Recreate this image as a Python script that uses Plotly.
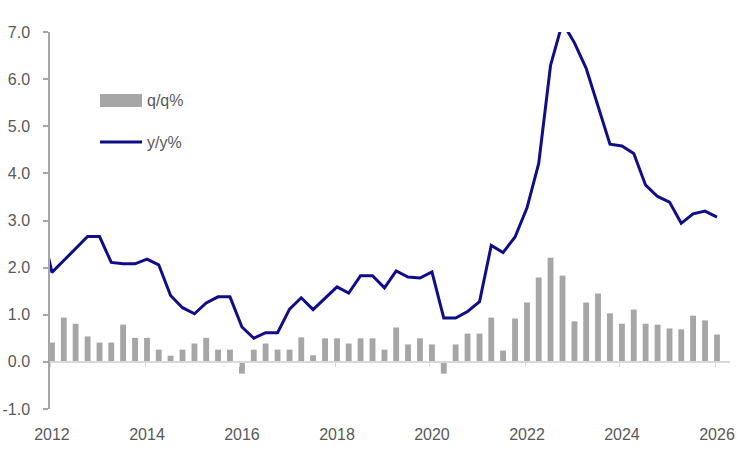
import pandas as pd
import plotly.graph_objects as go

# ---- data -------------------------------------------------------------
quarters = [str(p) for p in pd.period_range("2011Q4", "2026Q1", freq="Q")]

yy_pct = [3.0,
          1.90, 2.15, 2.41, 2.66,
          2.66, 2.11, 2.08, 2.08,
          2.18, 2.06, 1.41, 1.15,
          1.02, 1.25, 1.38, 1.38,
          0.74, 0.50, 0.62, 0.62,
          1.12, 1.36, 1.11, 1.35,
          1.59, 1.46, 1.83, 1.83,
          1.57, 1.93, 1.80, 1.78,
          1.91, 0.93, 0.93, 1.07,
          1.28, 2.47, 2.32, 2.65,
          3.27, 4.21, 6.29, 7.20,
          6.77, 6.23, 5.43, 4.62,
          4.58, 4.42, 3.75, 3.51,
          3.39, 2.94, 3.14, 3.20,
          3.07]

qq_pct = [None,
          0.41, 0.94, 0.81, 0.54,
          0.41, 0.41, 0.79, 0.51,
          0.51, 0.26, 0.13, 0.26,
          0.39, 0.51, 0.26, 0.26,
          -0.25, 0.26, 0.39, 0.26,
          0.26, 0.52, 0.14, 0.50,
          0.50, 0.39, 0.50, 0.50,
          0.26, 0.73, 0.37, 0.50,
          0.37, -0.25, 0.37, 0.60,
          0.60, 0.94, 0.24, 0.92,
          1.26, 1.79, 2.21, 1.83,
          0.86, 1.26, 1.45, 1.03,
          0.81, 1.11, 0.81, 0.79,
          0.71, 0.69, 0.98, 0.88,
          0.58]

series_names = ["q/q%", "y/y%"]
y_ticks = [-1, 0, 1, 2, 3, 4, 5, 6, 7]
y_tick_labels = ["-1.0", "0.0", "1.0", "2.0", "3.0", "4.0", "5.0", "6.0", "7.0"]

# ---- styling ----------------------------------------------------------
BAR_COLOR = "#a6a6a6"
LINE_COLOR = "#0e0e8a"
TEXT_COLOR = "#595959"
FONT = "Liberation Sans, Arial, sans-serif"

x_dates = [pd.Period(q, freq="Q").start_time + pd.Timedelta(days=15) for q in quarters]
x_range = ["2012-01-01", "2026-04-26"]

fig = go.Figure()
fig.add_trace(go.Bar(x=x_dates, y=qq_pct, name=series_names[0],
                     marker=dict(color=BAR_COLOR, line=dict(width=0)),
                     showlegend=False))
fig.add_trace(go.Scatter(x=x_dates, y=yy_pct, name=series_names[1], mode="lines",
                         line=dict(color=LINE_COLOR, width=3),
                         xaxis="x2", showlegend=False))

fig.update_layout(
    width=750, height=456,
    margin=dict(l=50, r=20, t=32, b=47),
    paper_bgcolor="white", plot_bgcolor="white",
    font=dict(family=FONT, size=16, color=TEXT_COLOR),
    bargap=0.5,
    xaxis=dict(type="date", range=x_range, showgrid=False, zeroline=False,
               showline=False, ticks="", tick0="2012-01-16", dtick="M24",
               tickformat="%Y", tickfont=dict(size=16, color=TEXT_COLOR),
               ticklabelstandoff=14, automargin=False),
    xaxis2=dict(type="date", range=x_range, overlaying="x", anchor="free",
                position=0.125, showgrid=False, zeroline=False,
                showline=True, linecolor="#d9d9d9", linewidth=2,
                ticks="outside", ticklen=4, tickcolor="#d9d9d9", tickwidth=1,
                tick0="2012-01-01", dtick="M24", showticklabels=False,
                automargin=False),
    yaxis=dict(range=[-1, 7], tickvals=y_ticks, ticktext=y_tick_labels,
               showgrid=False, zeroline=False, showline=True,
               linecolor=BAR_COLOR, linewidth=1.5, ticks="outside", ticklen=5,
               tickcolor=BAR_COLOR, tickwidth=1.5,
               tickfont=dict(size=16, color=TEXT_COLOR), ticklabelstandoff=10,
               automargin=False),
)

# ---- legend (drawn to match the wide swatches of the original) ----------
fig.add_shape(type="rect", xref="paper", yref="paper",
              x0=0.0735, x1=0.1353, y0=0.801, y1=0.8355,
              fillcolor=BAR_COLOR, line=dict(width=0))
fig.add_shape(type="line", xref="paper", yref="paper",
              x0=0.0735, x1=0.1353, y0=0.708, y1=0.708,
              line=dict(color=LINE_COLOR, width=3))
fig.add_annotation(xref="paper", yref="paper", x=0.1397, y=0.8196,
                   text=series_names[0], showarrow=False, xanchor="left",
                   yanchor="middle", font=dict(size=16, color=TEXT_COLOR))
fig.add_annotation(xref="paper", yref="paper", x=0.1397, y=0.708,
                   text=series_names[1], showarrow=False, xanchor="left",
                   yanchor="middle", font=dict(size=16, color=TEXT_COLOR))

fig.write_html("out.html")
